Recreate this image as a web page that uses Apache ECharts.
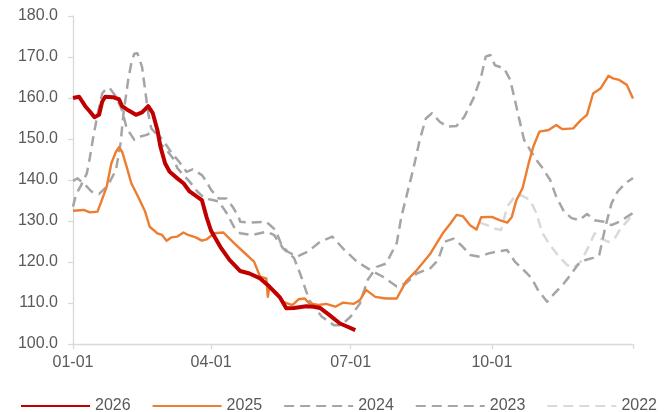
<!DOCTYPE html>
<html>
<head>
<meta charset="utf-8">
<title>Seasonal index comparison</title>
<script src="https://cdn.jsdelivr.net/npm/echarts@6/dist/echarts.min.js"></script>
<style>
  html, body { margin: 0; padding: 0; background: #ffffff; }
  #chart { width: 672px; height: 412px; }
</style>
</head>
<body>
<div id="chart"></div>
<script>
// Day-of-year positions (0 = 01-01) and index values for each year
const tickDays = [0, 90, 181, 273];
const tickLabels = ['01-01', '04-01', '07-01', '10-01'];

const days2026 = [0,4,8,11,14,17,19,21,26,30,32,36,41,45,49,52,55,57,60,63,68,72,76,81,84,87,90,96,102,109,115,122,128,135,139,144,152,157,161,167,174,179,184];
const vals2026 = [160.0,160.3,158.0,156.7,155.3,155.9,159.1,160.3,160.2,159.7,158.0,157.0,155.9,156.5,158.0,156.3,152.2,148.1,144.1,142.0,140.4,139.2,137.2,135.9,135.1,131.0,127.6,123.7,120.5,117.8,117.2,116.0,114.0,111.3,108.7,108.8,109.2,109.1,108.8,107.1,105.0,104.2,103.4];

const days2025 = [0,7,11,16,18,22,25,28,30,32,35,38,43,47,50,55,58,61,64,68,72,75,80,84,87,92,98,105,111,118,122,126,127,128,133,137,143,147,151,154,160,165,171,176,183,187,191,197,204,211,217,224,233,241,246,250,254,259,263,266,273,278,283,286,289,293,297,300,304,310,315,319,326,331,335,339,344,349,352,356,361,365];
const vals2025 = [132.5,132.7,132.1,132.3,134.3,138.4,144.1,146.9,148.0,146.9,143.2,139.2,135.5,132.3,128.6,127.0,126.6,125.2,126.0,126.2,127.2,126.6,126.0,125.2,125.5,127.0,127.2,124.6,122.5,120.1,116.4,116.0,111.5,114.0,112.4,110.3,109.5,110.9,111.1,109.9,109.5,109.8,109.1,110.1,109.8,110.7,113.2,111.5,111.1,111.1,115.2,118.0,122.1,127.0,129.4,131.5,131.2,128.9,127.9,130.9,131.0,130.2,129.6,131.0,135.1,138.0,144.1,148.1,151.8,152.2,153.4,152.4,152.6,154.6,155.9,161.1,162.4,165.4,164.8,164.4,163.2,159.9];

const days2024 = [0,3,8,12,17,21,24,28,31,33,36,38,40,42,45,47,49,51,54,57,61,66,68,72,76,81,86,91,95,100,105,109,117,126,131,137,144,148,154,162,170,175,181,187,192,198,204,211,214,218,222,226,230,234,239,244,250,255,261,266,269,272,275,281,285,288,291,294,298,302,306,311,315,320,325,330,335,340,346,351,356,363,365];
const vals2024 = [139.8,140.4,138.8,137.2,136.6,138.0,139.6,142.4,149.0,156.5,164.5,168.5,170.8,170.9,167.6,162.0,156.3,152.6,151.4,148.9,147.3,144.9,142.9,141.2,139.6,137.2,135.5,135.1,134.8,132.0,128.5,127.0,126.6,127.4,126.6,123.3,121.0,117.2,110.7,106.7,104.6,104.6,106.7,109.9,115.6,118.8,119.6,124.6,131.0,137.0,143.0,149.8,155.0,156.3,154.2,153.0,153.2,155.4,159.9,165.2,170.1,170.5,168.0,167.2,164.4,159.5,154.6,149.8,147.3,144.9,142.9,140.0,135.9,132.3,130.7,130.2,131.7,130.2,129.8,129.0,129.8,131.5,131.9];

const days2023 = [0,2,5,9,11,13,16,19,22,24,28,32,35,40,44,48,52,55,59,63,69,74,78,84,87,90,95,100,104,108,109,115,126,132,136,140,146,153,161,169,176,185,194,202,211,217,224,233,238,242,248,253,259,265,271,276,283,288,296,299,303,309,314,320,325,329,334,339,343,347,351,355,360,365];
const vals2023 = [133.5,136.5,138.5,141.6,145.5,150.0,156.0,161.1,162.4,162.4,160.3,157.0,152.6,149.8,150.6,151.0,151.8,151.4,149.5,147.3,144.5,142.0,142.6,141.2,139.6,137.6,135.5,135.5,133.5,131.0,129.8,129.6,129.8,127.8,124.1,122.5,121.3,122.5,124.9,126.2,123.3,120.1,118.0,116.4,114.0,114.8,117.2,118.5,120.5,124.9,125.7,124.1,121.7,121.3,122.1,122.5,122.9,120.1,117.2,116.0,113.2,110.3,112.4,114.8,117.2,119.3,120.5,121.0,121.7,128.6,134.3,137.2,139.2,140.5];

const days2022 = [265,270,274,279,283,287,292,298,302,306,311,316,322,326,331,336,340,344,349,353,357,363,365];
const vals2022 = [129.6,129.0,128.2,127.8,133.5,135.5,136.3,135.1,131.9,127.0,124.1,121.7,119.3,118.5,120.1,123.7,127.0,125.7,124.9,125.7,128.2,130.7,131.2];

function pairs(days, vals) {
  return days.map((d, i) => [d, vals[i]]);
}

const textColor = '#595959';
const axisColor = '#D9D9D9';
const fontFamily = '"Liberation Sans", Arial, sans-serif';

function lineSeries(name, days, vals, color, width, dash, z) {
  return {
    name: name,
    type: 'line',
    data: pairs(days, vals),
    symbol: 'none',
    showSymbol: false,
    z: z,
    lineStyle: { color: color, width: width, type: dash, cap: 'butt', join: 'round' },
    itemStyle: { color: color },
    emphasis: { disabled: true }
  };
}

const chart = echarts.init(document.getElementById('chart'), null, { renderer: 'canvas' });

chart.setOption({
  animation: false,
  backgroundColor: '#ffffff',
  textStyle: { fontFamily: fontFamily },
  grid: { left: 73, right: 39, top: 16, bottom: 68 },
  legend: {
    data: ['2026', '2025', '2024', '2023', '2022'],
    left: 15,
    top: 393,
    itemWidth: 69,
    itemHeight: 16,
    itemGap: 21,
    // legend keys show only the line, without a marker in the middle
    itemStyle: { color: 'rgba(0,0,0,0)', borderWidth: 0, opacity: 0 },
    textStyle: { color: textColor, fontSize: 16, fontFamily: fontFamily }
  },
  xAxis: {
    type: 'value',
    min: 0,
    max: 365,
    axisLine: { show: true, lineStyle: { color: axisColor, width: 1.3 } },
    axisTick: {
      show: true,
      length: 5,
      customValues: [0, 90, 181, 273, 365],
      lineStyle: { color: axisColor, width: 1.3 }
    },
    axisLabel: {
      customValues: tickDays,
      margin: 11,
      color: textColor,
      fontSize: 16,
      fontFamily: fontFamily,
      formatter: v => tickLabels[tickDays.indexOf(Math.round(v))] || ''
    },
    splitLine: { show: false }
  },
  yAxis: {
    type: 'value',
    min: 100,
    max: 180,
    interval: 10,
    axisLine: { show: true, lineStyle: { color: axisColor, width: 1.3 } },
    axisTick: { show: true, length: 5, lineStyle: { color: axisColor, width: 1.3 } },
    axisLabel: {
      margin: 15,
      color: textColor,
      fontSize: 16,
      fontFamily: fontFamily,
      formatter: v => v.toFixed(1)
    },
    splitLine: { show: false }
  },
  series: [
    lineSeries('2026', days2026, vals2026, '#C00000', 4, 'solid', 10),
    lineSeries('2025', days2025, vals2025, '#ED7D31', 2.4, 'solid', 9),
    lineSeries('2024', days2024, vals2024, '#A5A5A5', 2.5, [10, 6], 5),
    lineSeries('2023', days2023, vals2023, '#A5A5A5', 2.5, [10, 6], 5),
    lineSeries('2022', days2022, vals2022, '#D9D9D9', 2.5, [10, 6], 4)
  ]
});
</script>
</body>
</html>
